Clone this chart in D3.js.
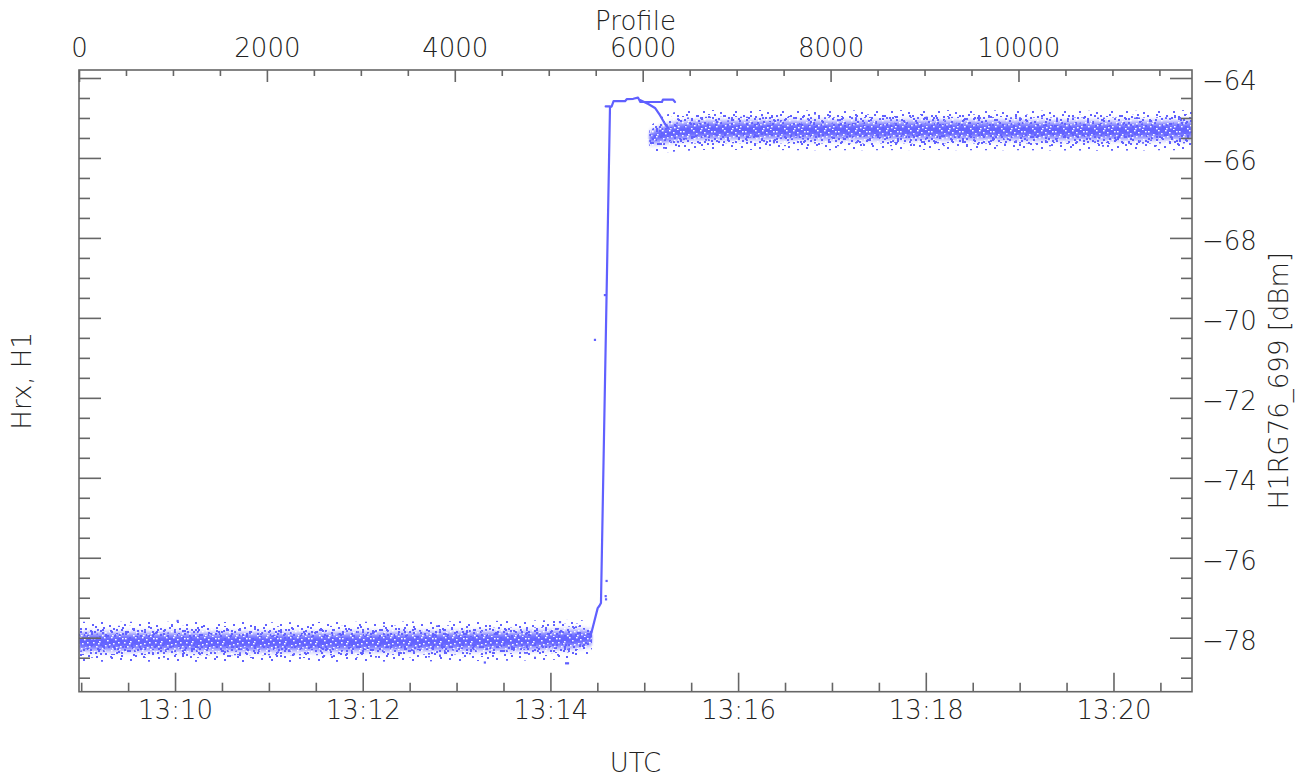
<!DOCTYPE html>
<html><head><meta charset="utf-8">
<script src="https://cdn.jsdelivr.net/npm/d3@7"></script>
<style>
html,body{margin:0;padding:0;background:#fff;}
svg{display:block;}
text{font-family:"DejaVu Sans",sans-serif;font-weight:200;fill:#222;}
</style></head><body>
<svg id="chart" width="1315" height="781"></svg>
<script>
// ---------------- data ----------------
const profileTicks = [0, 2000, 4000, 6000, 8000, 10000];
const dbTicks = [-78, -76, -74, -72, -70, -68, -66, -64];
const timeTickLabels = ["13:10", "13:12", "13:14", "13:16", "13:18", "13:20"];
const profileDomain = [0, 11847];
const timeDomain = ["2000-01-01T13:08:58.6Z", "2000-01-01T13:20:50.2Z"];
const dbDomain = [-79.35, -63.8];

// noise band of the dense point cloud: centre and half spread (dB)
const band1Profiles = [0, 1000, 2000, 3000, 4000, 5000, 5300, 5460];
const band1Centre   = [-78.10, -78.10, -78.11, -78.10, -78.09, -78.06, -78.03, -78.00];
const band1Spread   = [0.50, 0.50, 0.50, 0.50, 0.50, 0.50, 0.48, 0.36];
const band2Profiles = [6070, 6200, 6400, 6700, 7000, 8000, 9000, 10000, 11000, 11500, 11847];
const band2Centre   = [-65.50, -65.42, -65.33, -65.30, -65.30, -65.31, -65.30, -65.31, -65.32, -65.31, -65.30];
const band2Spread   = [0.28, 0.44, 0.50, 0.50, 0.50, 0.50, 0.50, 0.50, 0.50, 0.50, 0.50];

// connected trace through the step (NaN = break)
const traceProfiles = [5440, 5457, 5521, 5540, 5556, 5652, 5670, 5690, 5812, 5830, 5900, 5950, 5975, 6205, 6215, 6322, 6344,
                       NaN, 5606, 5652,
                       NaN, 5971, 6060, 6131, 6184, 6238, 6270];
const traceValues   = [-78.00, -77.85, -77.26, -77.20, -77.13, -64.73, -64.71, -64.58, -64.58, -64.53, -64.52, -64.49, -64.60, -64.60, -64.54, -64.54, -64.60,
                       NaN, -64.71, -64.71,
                       NaN, -64.55, -64.65, -64.75, -64.93, -65.15, -65.25];

// isolated points
const outlierProfiles = [5492, 5598, 5616, 5606, 5610, 5205, 5185, 5120, 1050, 4320];
const outlierValues   = [-70.55, -69.43, -76.58, -76.96, -77.04, -78.64, -78.64, -77.61, -77.58, -78.62];

// ---------------- layout ----------------
const L = 79, R = 1192, T = 70, B = 691.7;
const dotColor = "#6060ff";
const axisColor = "#666";

const x = d3.scaleLinear().domain(profileDomain).range([L, R]);
const t = d3.scaleUtc().domain(timeDomain.map(d => new Date(d))).range([L, R]);
const y = d3.scaleLinear().domain(dbDomain).range([B, T]);

const svg = d3.select("#chart");
const defs = svg.append("defs");
defs.append("clipPath").attr("id", "plotClip")
  .append("rect").attr("x", L).attr("y", T).attr("width", R - L).attr("height", B - T);
const filt = defs.append("filter").attr("id", "vblur").attr("filterUnits", "userSpaceOnUse")
  .attr("x", 0).attr("y", 0).attr("width", 1315).attr("height", 781);
filt.append("feGaussianBlur").attr("stdDeviation", "1 3");

// texture tiles (style only)
const tiles = [
  {id: "pA", w: 47, h: 19, c: dotColor, s: [2, 2],
   dots: [[3,2],[11,7],[19,1],[26,12],[33,4],[41,9],[45,16],[7,14],[15,17],[22,6],[30,16],[38,1],[2,10],[17,11],[43,3],[28,0],[9,0],[36,13]]},
  {id: "pB", w: 41, h: 23, c: dotColor, s: [2, 2],
   dots: [[1,5],[8,1],[14,12],[21,3],[27,18],[34,8],[39,20],[5,17],[11,21],[18,9],[25,14],[31,2],[37,13],[3,11],[16,19],[23,0],[29,10],[35,4]]},
  {id: "pC", w: 53, h: 13, c: dotColor, s: [2, 2],
   dots: [[4,6],[12,1],[19,9],[27,4],[34,11],[42,2],[49,8],[8,11],[23,0],[38,7],[46,12],[15,5]]},
  {id: "pD", w: 31, h: 29, c: dotColor, s: [2, 2],
   dots: [[2,3],[9,20],[15,8],[22,25],[28,14],[5,12],[12,27],[18,1],[25,6],[1,22],[20,16],[27,0],[7,6],[14,17],[29,24],[10,12]]},
  {id: "pCore", w: 31, h: 13, bg: "#6262ff", c: "#fff", s: [1.6, 1.4],
   dots: [[1,1],[6,4],[11,0],[16,7],[22,2],[27,9],[3,9],[9,11],[14,3],[19,11],[25,5],[29,1],[5,6],[12,8],[18,0],[23,10],[0,5],[20,6],[26,12]]}
];
tiles.forEach(tl => {
  const p = defs.append("pattern").attr("id", tl.id).attr("patternUnits", "userSpaceOnUse")
    .attr("width", tl.w).attr("height", tl.h);
  if (tl.bg) p.append("rect").attr("width", tl.w).attr("height", tl.h).attr("fill", tl.bg);
  tl.dots.forEach(d => p.append("rect").attr("x", d[0]).attr("y", d[1])
    .attr("width", tl.s[0]).attr("height", tl.s[1]).attr("fill", tl.c));
});

const dataG = svg.append("g").attr("clip-path", "url(#plotClip)");

const bands = [
  {p: band1Profiles, c: band1Centre, s: band1Spread},
  {p: band2Profiles, c: band2Centre, s: band2Spread}
];
bands.forEach((b, i) => {
  const pts = b.p.map((p, j) => ({p: p, c: b.c[j], s: b.s[j]}));
  const area = k => d3.area()
    .x(d => x(d.p))
    .y0(d => y(d.c - d.s * k))
    .y1(d => y(d.c + d.s * k))
    .curve(d3.curveMonotoneX)(pts);
  dataG.append("path").attr("d", area(1.0)).attr("fill", "url(#pA)");
  dataG.append("path").attr("d", area(0.8)).attr("fill", "url(#pC)");
  ["pB", "pD"].forEach(id => dataG.append("path").attr("d", area(0.66)).attr("fill", "url(#" + id + ")"));
  const m = defs.append("mask").attr("id", "coreMask" + i).attr("maskUnits", "userSpaceOnUse")
    .attr("x", 0).attr("y", 0).attr("width", 1315).attr("height", 781);
  m.append("path").attr("d", area(0.4)).attr("fill", "#fff").attr("filter", "url(#vblur)");
  dataG.append("rect").attr("x", L).attr("y", T).attr("width", R - L).attr("height", B - T)
    .attr("fill", "url(#pCore)").attr("mask", "url(#coreMask" + i + ")");
});

const tracePts = traceProfiles.map((p, i) => ({p: p, v: traceValues[i]}));
dataG.append("path")
  .attr("d", d3.line().defined(d => !isNaN(d.p) && !isNaN(d.v)).x(d => x(d.p)).y(d => y(d.v))(tracePts))
  .attr("fill", "none").attr("stroke", dotColor).attr("stroke-width", 2.2)
  .attr("stroke-linejoin", "round").attr("stroke-linecap", "round");

dataG.selectAll("rect.out").data(outlierProfiles.map((p, i) => ({p: p, v: outlierValues[i]})))
  .enter().append("rect").attr("class", "out")
  .attr("x", d => x(d.p) - 1.1).attr("y", d => y(d.v) - 1.1)
  .attr("width", 2.2).attr("height", 2.2).attr("fill", dotColor);

// ---------------- axes ----------------
function styleAxis(g) {
  g.select(".domain").remove();
  g.selectAll(".tick line").attr("stroke", axisColor).attr("stroke-width", 1.6);
  g.selectAll("text").attr("fill", "#222").style("font-size", "26px")
    .style("font-family", "'DejaVu Sans', sans-serif").style("font-weight", "200");
}
const dbMinor = d3.range(-79, -63.8, 0.5).filter(v => !dbTicks.includes(v));
const profMinor = d3.range(0, profileDomain[1], 500).filter(v => !profileTicks.includes(v));
const timeMajor = timeTickLabels.map(s => new Date("2000-01-01T" + s + ":00Z"));
const timeMinor = d3.utcSecond.every(30).range(t.domain()[0], t.domain()[1])
  .filter(d => !timeMajor.some(m => +m === +d));

// left axis (ticks only, pointing in)
svg.append("g").attr("transform", `translate(${L},0)`)
  .call(d3.axisRight(y).tickValues(dbTicks).tickSize(22).tickSizeOuter(0).tickFormat("")).call(styleAxis);
svg.append("g").attr("transform", `translate(${L},0)`)
  .call(d3.axisRight(y).tickValues(dbMinor).tickSize(11).tickSizeOuter(0).tickFormat("")).call(styleAxis);

// right axis
svg.append("g").attr("transform", `translate(${R},0)`)
  .call(d3.axisLeft(y).tickValues(dbTicks).tickSize(22).tickSizeOuter(0).tickFormat("")).call(styleAxis);
svg.append("g").attr("transform", `translate(${R},0)`)
  .call(d3.axisLeft(y).tickValues(dbMinor).tickSize(11).tickSizeOuter(0).tickFormat("")).call(styleAxis);
const rightLab = svg.append("g").attr("transform", `translate(${R},0)`)
  .call(d3.axisRight(y).tickValues(dbTicks).tickSize(0).tickPadding(10).tickFormat(d3.format("d"))).call(styleAxis);
rightLab.selectAll("text").attr("dy", "0.45em");

// top axis (profile)
svg.append("g").attr("transform", `translate(0,${T})`)
  .call(d3.axisBottom(x).tickValues(profileTicks).tickSize(12).tickSizeOuter(0).tickFormat("")).call(styleAxis);
svg.append("g").attr("transform", `translate(0,${T})`)
  .call(d3.axisBottom(x).tickValues(profMinor).tickSize(6).tickSizeOuter(0).tickFormat("")).call(styleAxis);
svg.append("g").attr("transform", `translate(0,${T})`)
  .call(d3.axisTop(x).tickValues(profileTicks).tickSize(0).tickPadding(13).tickFormat(d3.format("d"))).call(styleAxis);

// bottom axis (UTC)
svg.append("g").attr("transform", `translate(0,${B})`)
  .call(d3.axisTop(t).tickValues(timeMajor).tickSize(19).tickSizeOuter(0).tickFormat("")).call(styleAxis);
svg.append("g").attr("transform", `translate(0,${B})`)
  .call(d3.axisTop(t).tickValues(timeMinor).tickSize(9).tickSizeOuter(0).tickFormat("")).call(styleAxis);
svg.append("g").attr("transform", `translate(0,${B})`)
  .call(d3.axisBottom(t).tickValues(timeMajor).tickSize(0).tickPadding(8.5).tickFormat(d3.utcFormat("%H:%M"))).call(styleAxis);

// frame
svg.append("rect").attr("x", L).attr("y", T).attr("width", R - L).attr("height", B - T)
  .attr("fill", "none").attr("stroke", axisColor).attr("stroke-width", 1.6);

// titles
const fs = "26px";
svg.append("text").attr("x", (L + R) / 2).attr("y", 30).attr("text-anchor", "middle").style("font-size", fs).text("Profile");
svg.append("text").attr("x", (L + R) / 2).attr("y", 772).attr("text-anchor", "middle").style("font-size", fs).text("UTC");
svg.append("text").attr("transform", `translate(31,${(T + B) / 2}) rotate(-90)`).attr("text-anchor", "middle").style("font-size", fs).text("Hrx, H1");
svg.append("text").attr("transform", `translate(1288,${(T + B) / 2}) rotate(-90)`).attr("text-anchor", "middle").style("font-size", fs).text("H1RG76_699 [dBm]");
</script>
</body></html>
